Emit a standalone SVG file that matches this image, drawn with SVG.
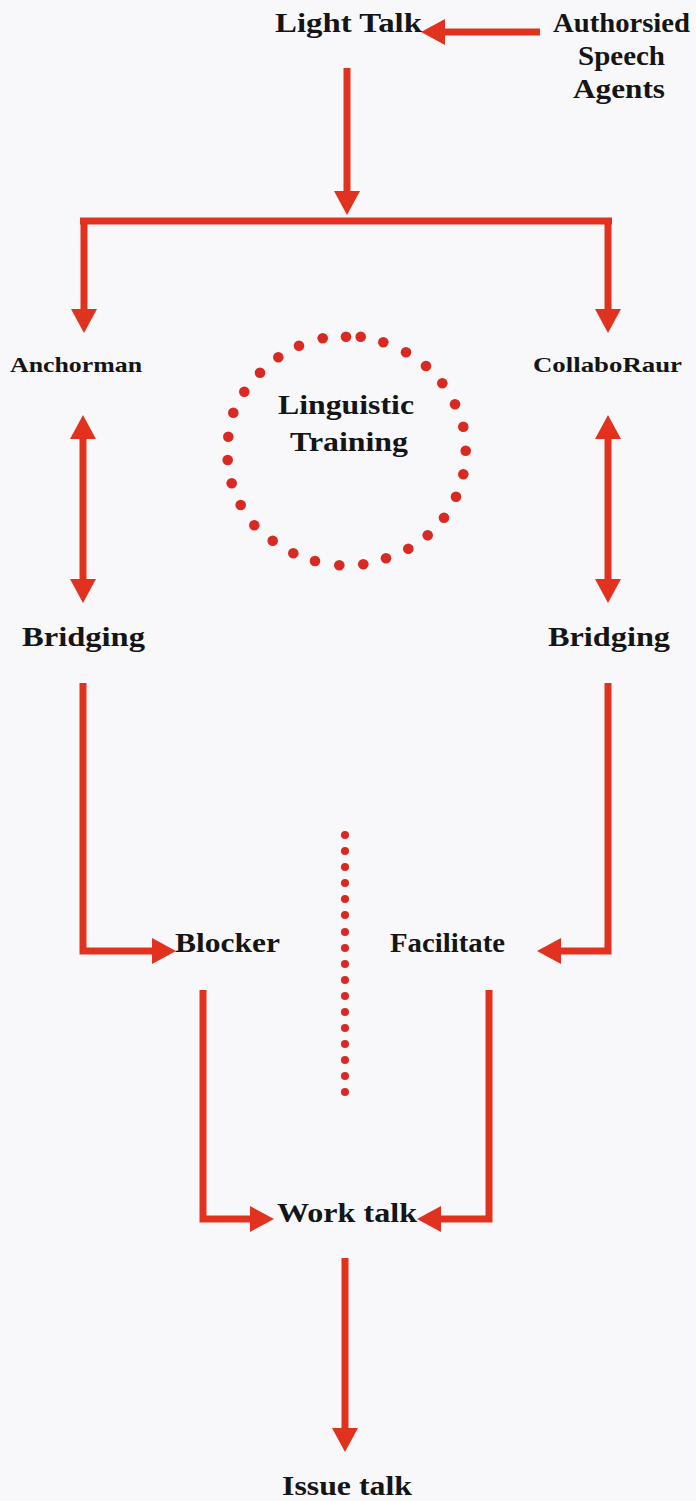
<svg xmlns="http://www.w3.org/2000/svg" width="696" height="1501" viewBox="0 0 696 1501">
  <defs>
    <style>
      .lbl { font-family: "Liberation Serif", "Times New Roman", serif; font-weight: bold; fill: #151515; font-size: 28px; }
      .sm { font-size: 22px; }
      .conn { fill: none; stroke: #e0321f; stroke-width: 7; stroke-linejoin: miter; }
      .dot { fill: #d82a22; }
    </style>
    <marker id="head" markerUnits="userSpaceOnUse" markerWidth="26" markerHeight="26" viewBox="0 0 24 26" refX="1" refY="13" orient="auto-start-reverse">
      <path d="M0,0 L24,13 L0,26 Z" fill="#e0321f"/>
    </marker>
  </defs>

  <rect width="696" height="1501" fill="#f8f8fb"/>

  <!-- connectors -->
  <g id="connectors">
    <path class="conn" d="M540,32 H444" marker-end="url(#head)"/>
    <path class="conn" d="M347,68 V192" marker-end="url(#head)"/>
    <path class="conn" d="M80,221 H612"/>
    <path class="conn" d="M84,218 V310" marker-end="url(#head)"/>
    <path class="conn" d="M608,218 V310" marker-end="url(#head)"/>
    <path class="conn" d="M83,438 V580" marker-start="url(#head)" marker-end="url(#head)"/>
    <path class="conn" d="M608,438 V580" marker-start="url(#head)" marker-end="url(#head)"/>
    <path class="conn" d="M83,683 V951 H153" marker-end="url(#head)"/>
    <path class="conn" d="M608,683 V951 H560" marker-end="url(#head)"/>
    <path class="conn" d="M203,990 V1219 H251" marker-end="url(#head)"/>
    <path class="conn" d="M489,990 V1219 H440" marker-end="url(#head)"/>
    <path class="conn" d="M345,1258 V1429" marker-end="url(#head)"/>
    <!-- dotted divider -->
    <g id="divider" class="dot">
      <circle cx="345" cy="835" r="4"/>
      <circle cx="345" cy="851" r="4"/>
      <circle cx="345" cy="867" r="4"/>
      <circle cx="345" cy="883" r="4"/>
      <circle cx="345" cy="899" r="4"/>
      <circle cx="345" cy="915" r="4"/>
      <circle cx="345" cy="932" r="4"/>
      <circle cx="345" cy="948" r="4"/>
      <circle cx="345" cy="964" r="4"/>
      <circle cx="345" cy="980" r="4"/>
      <circle cx="345" cy="996" r="4"/>
      <circle cx="345" cy="1012" r="4"/>
      <circle cx="345" cy="1028" r="4"/>
      <circle cx="345" cy="1044" r="4"/>
      <circle cx="345" cy="1060" r="4"/>
      <circle cx="345" cy="1076" r="4"/>
      <circle cx="345" cy="1092" r="4"/>
    </g>
  </g>

  <g id="light-talk"><text class="lbl" x="275" y="32" textLength="147" lengthAdjust="spacingAndGlyphs">Light Talk</text></g>
  <g id="speech-agents">
    <text class="lbl" x="553" y="32" textLength="137" lengthAdjust="spacingAndGlyphs">Authorsied</text>
    <text class="lbl" x="578" y="65" textLength="87" lengthAdjust="spacingAndGlyphs">Speech</text>
    <text class="lbl" x="573" y="98" textLength="92" lengthAdjust="spacingAndGlyphs">Agents</text>
  </g>
  <g id="anchorman"><text class="lbl sm" x="10" y="372" textLength="132" lengthAdjust="spacingAndGlyphs">Anchorman</text></g>
  <g id="collaboraur"><text class="lbl sm" x="533" y="372" textLength="149" lengthAdjust="spacingAndGlyphs">CollaboRaur</text></g>

  <g id="linguistic-training">
    <g class="dot">
      <circle cx="322.7" cy="338.3" r="5.3"/>
      <circle cx="346" cy="336.7" r="5.3"/>
      <circle cx="360.7" cy="336.7" r="5.3"/>
      <circle cx="383.3" cy="342.3" r="5.3"/>
      <circle cx="406" cy="352.3" r="5.3"/>
      <circle cx="426" cy="366" r="5.3"/>
      <circle cx="442.3" cy="383.3" r="5.3"/>
      <circle cx="455" cy="404.3" r="5.3"/>
      <circle cx="463.3" cy="426.7" r="5.3"/>
      <circle cx="465.7" cy="450.7" r="5.3"/>
      <circle cx="463.3" cy="474.3" r="5.3"/>
      <circle cx="456" cy="496.7" r="5.3"/>
      <circle cx="444" cy="517.7" r="5.3"/>
      <circle cx="427.7" cy="535.3" r="5.3"/>
      <circle cx="408.3" cy="548.7" r="5.3"/>
      <circle cx="386" cy="558.3" r="5.3"/>
      <circle cx="363.3" cy="564.3" r="5.3"/>
      <circle cx="339.3" cy="565.3" r="5.3"/>
      <circle cx="315" cy="561" r="5.3"/>
      <circle cx="293.3" cy="553.3" r="5.3"/>
      <circle cx="272.7" cy="540.7" r="5.3"/>
      <circle cx="254.3" cy="525.3" r="5.3"/>
      <circle cx="240.7" cy="505" r="5.3"/>
      <circle cx="231.7" cy="483.3" r="5.3"/>
      <circle cx="227.7" cy="460" r="5.3"/>
      <circle cx="228.3" cy="436.7" r="5.3"/>
      <circle cx="233.3" cy="412.7" r="5.3"/>
      <circle cx="244.3" cy="391.7" r="5.3"/>
      <circle cx="260" cy="372.7" r="5.3"/>
      <circle cx="278.3" cy="357.3" r="5.3"/>
      <circle cx="299" cy="345.7" r="5.3"/>
    </g>
    <text class="lbl" x="278" y="414" textLength="136" lengthAdjust="spacingAndGlyphs">Linguistic</text>
    <text class="lbl" x="290" y="451" textLength="118" lengthAdjust="spacingAndGlyphs">Training</text>
  </g>

  <g id="bridging-left"><text class="lbl" x="22" y="646" textLength="123" lengthAdjust="spacingAndGlyphs">Bridging</text></g>
  <g id="bridging-right"><text class="lbl" x="548" y="646" textLength="122" lengthAdjust="spacingAndGlyphs">Bridging</text></g>
  <g id="blocker"><text class="lbl" x="175" y="952" textLength="105" lengthAdjust="spacingAndGlyphs">Blocker</text></g>
  <g id="facilitate"><text class="lbl" x="390" y="952" textLength="115" lengthAdjust="spacingAndGlyphs">Facilitate</text></g>
  <g id="work-talk"><text class="lbl" x="277" y="1222" textLength="140" lengthAdjust="spacingAndGlyphs">Work talk</text></g>
  <g id="issue-talk"><text class="lbl" x="282" y="1495" textLength="130" lengthAdjust="spacingAndGlyphs">Issue talk</text></g>
</svg>
